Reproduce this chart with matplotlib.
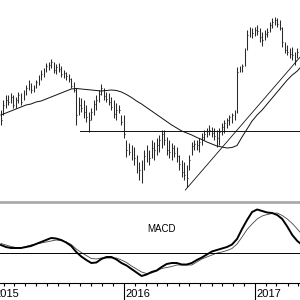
import numpy as np
import pandas as pd
import matplotlib
matplotlib.use('Agg')
import matplotlib.pyplot as plt
import matplotlib.dates as mdates

plt.rcParams['font.family'] = ['Liberation Sans', 'DejaVu Sans']

# weekly bars, Jan 2015 - May 2017
weeks = pd.date_range('2015-01-23', periods=120, freq='7D')

high = [90, 100, 105, 105, 107, 105, 103, 108, 107, 110,
        115, 120, 117, 115, 120, 125, 130, 132, 137, 138,
        141, 138, 136, 137, 134, 130, 128, 126, 122, 118,
        112, 103, 102, 100, 95, 88, 92, 100, 105, 110,
        116, 112, 108, 107, 103, 100, 97, 95, 85, 85,
        60, 57, 55, 53, 45, 38, 40, 50, 55, 50,
        60, 58, 62, 65, 70, 70, 63, 60, 57, 55,
        53, 45, 40, 38, 35, 45, 58, 60, 60, 62,
        67, 70, 72, 75, 73, 72, 70, 72, 77, 80,
        82, 85, 87, 90, 133, 134, 136, 152, 170, 173,
        172, 173, 175, 172, 168, 170, 172, 178, 182, 183,
        182, 180, 173, 158, 155, 152, 153, 148, 152, 155]
low = [75, 85, 92, 95, 97, 92, 92, 97, 95, 100,
       105, 110, 107, 108, 112, 115, 120, 123, 128, 130,
       132, 127, 126, 128, 123, 122, 120, 118, 112, 108,
       75, 85, 88, 82, 78, 68, 80, 85, 90, 98,
       105, 100, 98, 95, 90, 82, 80, 87, 75, 62,
       43, 45, 40, 35, 27, 20, 17, 30, 38, 35,
       42, 40, 45, 48, 52, 55, 45, 42, 40, 43,
       38, 30, 23, 20, 13, 30, 45, 50, 50, 48,
       55, 60, 63, 65, 63, 60, 53, 55, 65, 67,
       72, 75, 77, 80, 87, 128, 128, 134, 150, 163,
       162, 164, 165, 158, 154, 160, 163, 168, 172, 175,
       173, 170, 153, 147, 145, 142, 140, 135, 142, 145]
close = [80, 95, 100, 98, 103, 95, 100, 105, 98, 106,
         112, 114, 110, 112, 118, 122, 126, 129, 134, 135,
         138, 130, 133, 131, 126, 127, 124, 121, 114, 110,
         85, 95, 92, 88, 83, 80, 88, 96, 100, 106,
         112, 104, 101, 98, 93, 86, 90, 90, 78, 66,
         50, 48, 50, 42, 35, 30, 28, 44, 50, 42,
         52, 50, 55, 60, 66, 60, 50, 48, 52, 47,
         44, 36, 28, 25, 22, 40, 54, 56, 55, 58,
         63, 66, 69, 70, 67, 64, 62, 68, 73, 77,
         80, 83, 85, 88, 128, 130, 134, 150, 165, 168,
         167, 170, 169, 163, 160, 166, 168, 175, 178, 180,
         176, 172, 158, 150, 148, 146, 145, 140, 148, 150]

# moving average and MACD, read every 2 weeks
ind_dates = list(weeks[::2]) + [weeks[-1]]
mov_avg = [85, 87, 89, 91, 93, 95, 96, 98, 99, 101,
           103, 105, 107, 109, 111, 111.5, 111, 110.5, 110, 109.5,
           109, 109.5, 110, 109.5, 108, 105.5, 102.5, 99, 96, 92.5,
           89, 85.5, 82, 78.5, 75, 72, 69, 67, 65, 62.5,
           60.5, 58, 56, 54, 53, 52, 52.5, 54.5, 63, 71,
           79, 85, 90, 96, 102, 108, 114, 120, 125, 129, 132]
macd = [8, 6, 5, 5, 5, 6, 7, 9, 11, 13,
        15, 14.5, 13, 10.5, 7, 1, -3.5, -7, -10, -9.5,
        -6, -4, -4, -6.5, -10, -12.5, -16, -19.5, -23, -21.5,
        -19, -17.5, -14, -11, -10, -10, -11.5, -11.5, -10, -7,
        -4.5, -1.5, 1.5, 3, 4.5, 6, 8.5, 14, 24, 33,
        41, 43.5, 42, 40.5, 40, 38, 34, 26.5, 18, 12, 10]
signal = [9.5, 8, 6.5, 5.5, 5, 6.5, 8, 9, 10, 11,
          12, 13, 12.5, 11, 8.5, 4, 0.5, -2.5, -5.5, -6,
          -5, -5, -5, -5, -7, -9.5, -13, -16, -19, -20.5,
          -20, -18, -15.5, -14.5, -13.5, -12, -12, -12, -12, -9,
          -6, -4, -2, 0, 1, 2.5, 4.5, 9, 16, 23.5,
          29, 34, 37, 38.5, 39.5, 40, 37.5, 34, 29.5, 24, 21]

support_dates = pd.to_datetime(['2015-09-01', '2017-05-06'])
support_level = [69, 69]
trend_dates = pd.to_datetime(['2016-06-20', '2017-05-06'])
trend_prices = [10, 143]

years = ['2015', '2016', '2017']

fig = plt.figure(figsize=(3, 3), dpi=100)
ax = fig.add_axes([0, 1/3, 1, 2/3])
ax2 = fig.add_axes([0, 17/300, 1, 81/300])

xmin = pd.Timestamp('2015-01-20 12:00')
xmax = pd.Timestamp('2017-05-05 12:00')

# price bars
bar_col = '#2a2a2a'
ax.vlines(weeks, low, high, color=bar_col, lw=0.75)
ax.hlines(close, weeks, weeks + pd.Timedelta(days=2.5), color=bar_col, lw=0.75)
ax.plot(ind_dates, mov_avg, color='#111111', lw=0.7)
ax.plot(support_dates, support_level, color='#111111', lw=0.7)
ax.plot(trend_dates, trend_prices, color='#111111', lw=0.6)
ax.set_xlim(xmin, xmax)
ax.set_ylim(0, 200)
ax.axis('off')

# MACD panel
ax2.plot(ind_dates, signal, color='#444444', lw=0.6)
ax2.plot(ind_dates, macd, color='black', lw=1.4)
ax2.axhline(0, color='black', lw=0.7)
ax2.set_xlim(xmin, xmax)
ax2.set_ylim(-30, 51)
ax2.text(pd.Timestamp('2016-03-05'), 24, 'MACD', fontsize=7, va='center', ha='left')
for s in ['left', 'right']:
    ax2.spines[s].set_visible(False)
ax2.spines['top'].set_color('#aaaaaa')
ax2.spines['top'].set_linewidth(2)
ax2.spines['bottom'].set_linewidth(0.8)
ax2.set_yticks([])
ax2.xaxis.set_major_locator(mdates.YearLocator())
ax2.xaxis.set_minor_locator(mdates.MonthLocator())
ax2.xaxis.set_major_formatter(plt.NullFormatter())
ax2.tick_params(axis='x', which='major', length=13, width=0.8)
ax2.tick_params(axis='x', which='minor', length=2.5, width=0.8)
for y in years:
    ax2.text(pd.Timestamp(y + '-01-05'), -0.07, y, fontsize=8, ha='left', va='top',
             transform=ax2.get_xaxis_transform())

fig.savefig('out.png', dpi=100)
